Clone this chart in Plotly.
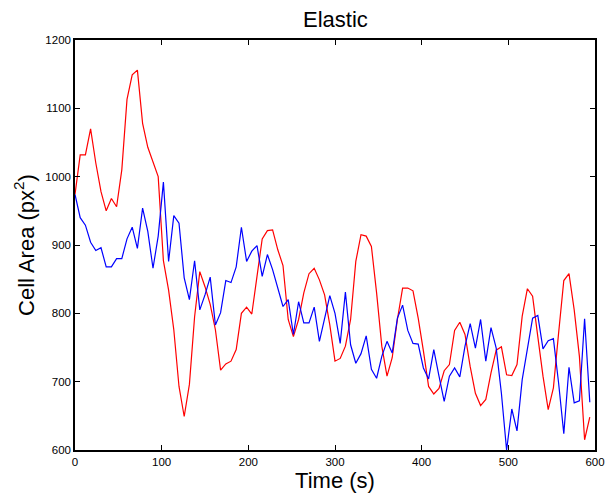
import numpy as np
import plotly.graph_objects as go

# Sampling: one frame every 6 s, 100 frames
time_s = [6 * i for i in range(100)]

area_red = [
    974, 1032, 1032, 1070, 1020, 978, 950, 968, 956, 1010,
    1113, 1149, 1156, 1078, 1043, 1022, 1000, 877, 834, 776,
    693, 649, 696, 795, 861, 839, 813, 776, 717, 726,
    730, 747, 800, 809, 799, 854, 909, 921, 922, 893,
    870, 791, 766, 791, 830, 858, 866, 849, 827, 783,
    730, 734, 752, 791, 876, 915, 913, 898, 830, 752,
    708, 735, 791, 837, 837, 833, 793, 745, 693, 682,
    690, 716, 725, 775, 787, 769, 722, 683, 665, 674,
    713, 746, 751, 710, 709, 725, 796, 836, 825, 766,
    708, 659, 691, 771, 848, 858, 805, 737, 615, 648,
]

area_blue = [
    974, 940, 929, 904, 892, 896, 868, 868, 880, 880,
    909, 926, 895, 954, 920, 866, 913, 992, 876, 943,
    932, 852, 820, 877, 805, 827, 853, 783, 801, 848,
    845, 868, 926, 876, 891, 899, 854, 886, 864, 837,
    810, 820, 769, 817, 786, 786, 809, 759, 795, 826,
    800, 756, 831, 754, 727, 741, 767, 718, 705, 737,
    759, 742, 793, 812, 775, 756, 755, 720, 704, 747,
    708, 671, 708, 720, 707, 752, 785, 749, 791, 730,
    779, 749, 683, 600, 660, 628, 703, 747, 793, 797,
    748, 760, 763, 698, 624, 721, 669, 672, 792, 670,
]

x_ticks = [0, 100, 200, 300, 400, 500, 600]
y_ticks = [600, 700, 800, 900, 1000, 1100, 1200]

font_family = "Liberation Sans, Arial, Helvetica, sans-serif"

fig = go.Figure()
fig.add_trace(go.Scatter(x=time_s, y=area_red, mode="lines",
                         line=dict(color="#ff0000", width=1.2),
                         showlegend=False))
fig.add_trace(go.Scatter(x=time_s, y=area_blue, mode="lines",
                         line=dict(color="#0000ff", width=1.2),
                         showlegend=False))

axis_common = dict(
    showgrid=False, zeroline=False, automargin=False,
    showline=True, linecolor="black", linewidth=1.5, mirror="ticks",
    ticks="inside", ticklen=5, tickwidth=1, tickcolor="black",
    tickfont=dict(family=font_family, size=11.5, color="black"),
)

fig.update_layout(
    width=606, height=495,
    margin=dict(l=75, r=11, t=40, b=45),
    paper_bgcolor="white", plot_bgcolor="white",
    title=dict(text="Elastic", x=0.5535, xanchor="center", y=0.962, yanchor="middle",
               font=dict(family=font_family, size=22, color="black")),
    xaxis=dict(range=[0, 600], tickvals=x_ticks,
               title=dict(text="Time (s)", standoff=3,
                          font=dict(family=font_family, size=22, color="black")),
               **axis_common),
    yaxis=dict(range=[600, 1200], tickvals=y_ticks,
               title=dict(text="Cell Area (px<sup>2</sup>)", standoff=5,
                          font=dict(family=font_family, size=22, color="black")),
               **axis_common),
)

fig.write_html("out.html")
